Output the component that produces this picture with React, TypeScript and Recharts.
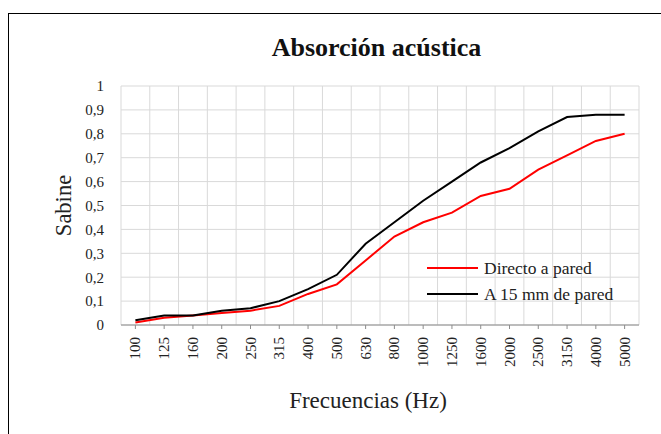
import React from "react";
import { ComposedChart, Line, XAxis, YAxis, CartesianGrid, Legend } from "recharts";

const frequencies = ["100","125","160","200","250","315","400","500","630","800","1000","1250","1600","2000","2500","3150","4000","5000"];
const directoAPared = [0.01,0.03,0.04,0.05,0.06,0.08,0.13,0.17,0.27,0.37,0.43,0.47,0.54,0.57,0.65,0.71,0.77,0.80];
const a15mmDePared = [0.02,0.04,0.04,0.06,0.07,0.10,0.15,0.21,0.34,0.43,0.52,0.60,0.68,0.74,0.81,0.87,0.88,0.88];
const yTicks = [0,0.1,0.2,0.3,0.4,0.5,0.6,0.7,0.8,0.9,1];
const seriesNames = ["Directo a pared", "A 15 mm de pared"];

const data = frequencies.map((f, i) => ({ freq: f, directo: directoAPared[i], a15: a15mmDePared[i] }));

const FONT = "'Liberation Serif', serif";

const XTick = (props: any) => {
  const { x, y, payload } = props;
  return (
    <text x={x} y={y} transform={`rotate(-90, ${x}, ${y})`} textAnchor="end" dominantBaseline="central"
      fontFamily={FONT} fontSize={15} fill="#222">{payload.value}</text>
  );
};

const renderLegend = (props: any) => {
  const payload = [...(props.payload || [])].sort(
    (a: any, b: any) => seriesNames.indexOf(a.value) - seriesNames.indexOf(b.value)
  );
  return (
    <div style={{ fontFamily: FONT, fontSize: 17.5, color: "#222" }}>
      {payload.map((p: any, i: number) => (
        <div key={i} style={{ display: "flex", alignItems: "center", height: 26 }}>
          <div style={{ width: 51, height: 2, background: p.color, marginRight: 6 }} />
          <span>{p.value}</span>
        </div>
      ))}
    </div>
  );
};

export default function App() {
  return (
    <div style={{ position: "fixed", left: 0, top: 0, width: 661, height: 434, overflow: "hidden", background: "#fff" }}>
      <div style={{ position: "absolute", left: 8, top: 13, width: 720, height: 500, border: "1.5px solid #000", boxSizing: "border-box" }} />
      <div style={{ position: "absolute", left: 0, width: 753, top: 33, textAlign: "center", fontFamily: FONT, fontWeight: "bold", fontSize: 26, color: "#111" }}>
        Absorción acústica
      </div>
      <div style={{ position: "absolute", left: 0, top: 0 }}>
        <ComposedChart width={661} height={434} data={data} margin={{ top: 86, right: 22, left: 0, bottom: 0 }}>
          <CartesianGrid stroke="#d9d9d9" strokeWidth={1}
            verticalCoordinatesGenerator={({ offset }: any) =>
              frequencies.map((_, i) => offset.left + (i * offset.width) / frequencies.length).concat([offset.left + offset.width])} />
          <XAxis dataKey="freq" scale="band" height={109} interval={0} tick={<XTick />} tickSize={4} tickMargin={8}
            stroke="#8c8c8c" tickLine={{ stroke: "#8c8c8c" }}
            label={{ content: ({ viewBox }: any) => (
              <text x={viewBox.x + viewBox.width / 2 - 12} y={400} textAnchor="middle" dominantBaseline="central"
                fontFamily={FONT} fontSize={23} fill="#222">Frecuencias (Hz)</text>
            ) }} />
          <YAxis width={121} domain={[0, 1]} ticks={yTicks} axisLine={false} tickLine={false} tickSize={0} tickMargin={17}
            tickFormatter={(v: number) => String(v).replace(".", ",")}
            tick={{ fontFamily: FONT, fontSize: 15, fill: "#222" }}
            label={{ content: ({ viewBox }: any) => (
              <text x={63} y={viewBox.y + viewBox.height / 2} transform={`rotate(-90, 63, ${viewBox.y + viewBox.height / 2})`}
                textAnchor="middle" dominantBaseline="central" fontFamily={FONT} fontSize={22.5} fill="#222">Sabine</text>
            ) }} />
          <Legend layout="vertical" align="center" verticalAlign="middle" content={renderLegend}
            wrapperStyle={{ left: 427, top: 255, width: 220 }} />
          <Line type="linear" dataKey="directo" name="Directo a pared" stroke="#ff0000" strokeWidth={2} dot={false} isAnimationActive={false} />
          <Line type="linear" dataKey="a15" name="A 15 mm de pared" stroke="#000000" strokeWidth={2} dot={false} isAnimationActive={false} />
        </ComposedChart>
      </div>
    </div>
  );
}
